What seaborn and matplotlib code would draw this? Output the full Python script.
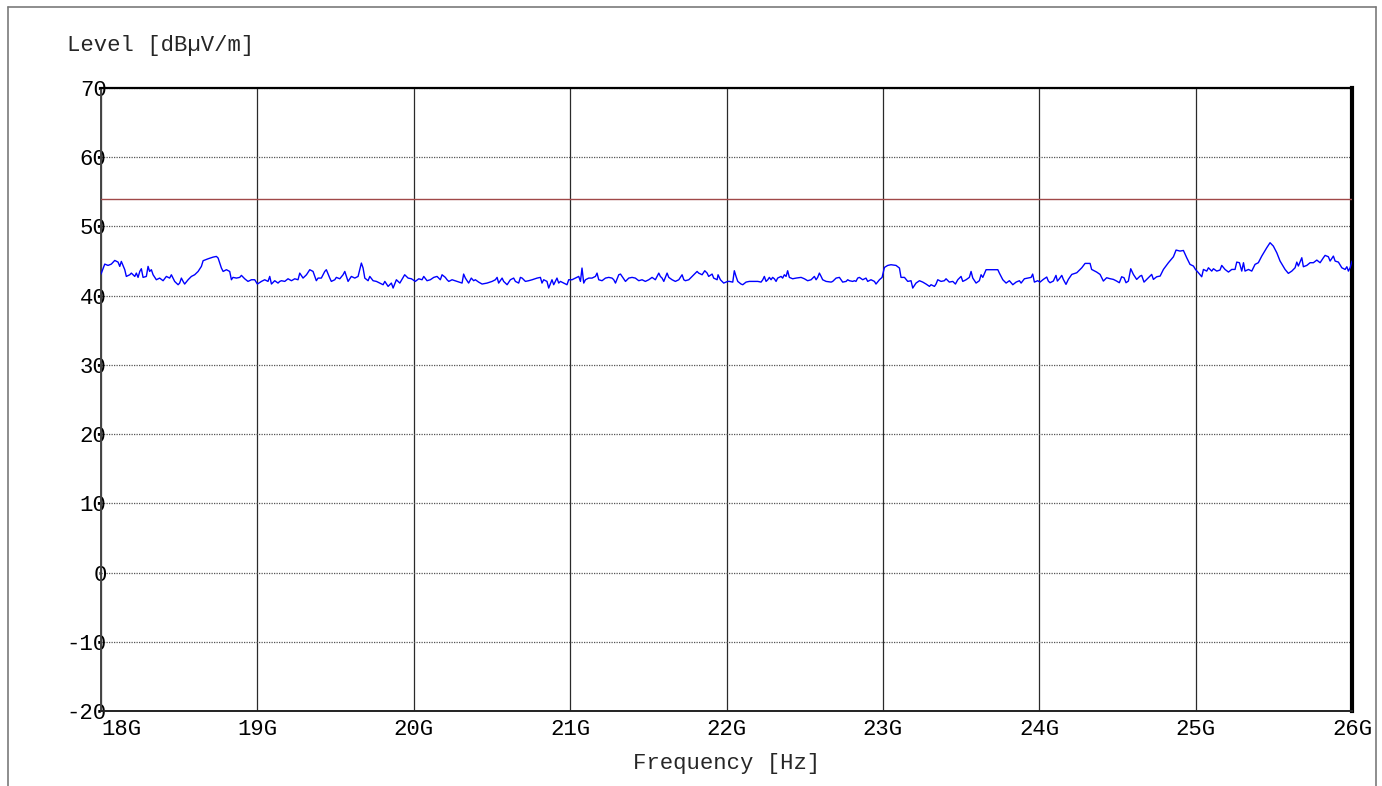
import numpy as np
import pandas as pd
import matplotlib
matplotlib.use("Agg")
import matplotlib.pyplot as plt
from matplotlib.lines import Line2D
import seaborn as sns

# ---------------- data ----------------
freq_ghz = [
    18.000, 18.024, 18.045, 18.066, 18.088, 18.109, 18.120, 18.130, 18.152, 18.162,
    18.184, 18.194, 18.216, 18.226, 18.237, 18.248, 18.258, 18.269, 18.290, 18.301,
    18.311, 18.322, 18.333, 18.354, 18.375, 18.397, 18.418, 18.439, 18.450, 18.471,
    18.493, 18.503, 18.514, 18.525, 18.535, 18.557, 18.578, 18.599, 18.621, 18.642,
    18.653, 18.685, 18.717, 18.738, 18.749, 18.770, 18.781, 18.802, 18.823, 18.834,
    18.844, 18.866, 18.887, 18.898, 18.919, 18.940, 18.962, 18.983, 19.000, 19.026,
    19.047, 19.068, 19.079, 19.090, 19.111, 19.132, 19.143, 19.154, 19.175, 19.196,
    19.218, 19.239, 19.260, 19.271, 19.292, 19.314, 19.335, 19.356, 19.377, 19.388,
    19.409, 19.431, 19.441, 19.463, 19.473, 19.495, 19.505, 19.527, 19.548, 19.559,
    19.580, 19.601, 19.623, 19.644, 19.665, 19.676, 19.687, 19.708, 19.719, 19.740,
    19.761, 19.783, 19.804, 19.815, 19.836, 19.857, 19.868, 19.889, 19.911, 19.932,
    19.942, 19.964, 19.985,
    20.010, 20.032, 20.053, 20.064, 20.085, 20.106, 20.128, 20.149, 20.170, 20.181,
    20.202, 20.213, 20.224, 20.245, 20.277, 20.309, 20.319, 20.330, 20.351, 20.368,
    20.383, 20.394, 20.415, 20.437, 20.469, 20.501, 20.522, 20.533, 20.543, 20.565,
    20.575, 20.597, 20.618, 20.639, 20.650, 20.671, 20.682, 20.693, 20.714, 20.735,
    20.757, 20.789, 20.810, 20.820, 20.831, 20.852, 20.863, 20.884, 20.895, 20.916,
    20.927, 20.938, 20.959, 20.980, 20.991, 21.012, 21.034, 21.055, 21.066, 21.076,
    21.087, 21.098, 21.119, 21.140, 21.162, 21.172, 21.183, 21.204, 21.226, 21.247,
    21.268, 21.279, 21.290, 21.311, 21.322, 21.332, 21.354, 21.375, 21.396, 21.417,
    21.439, 21.460, 21.481, 21.503, 21.524, 21.545, 21.567, 21.577, 21.588, 21.599,
    21.620, 21.631, 21.652, 21.673, 21.695, 21.716, 21.727, 21.737, 21.759, 21.780,
    21.801, 21.812, 21.822, 21.844, 21.861, 21.876, 21.886, 21.908, 21.918, 21.940,
    21.946, 21.961, 21.982,
    22.008, 22.018, 22.040, 22.050, 22.061, 22.072, 22.093, 22.104, 22.125, 22.146,
    22.178, 22.200, 22.221, 22.232, 22.242, 22.253, 22.264, 22.274, 22.285, 22.295,
    22.306, 22.317, 22.327, 22.349, 22.359, 22.370, 22.381, 22.391, 22.402, 22.423,
    22.445, 22.477, 22.498, 22.519, 22.541, 22.562, 22.573, 22.583, 22.594, 22.605,
    22.615, 22.637, 22.669, 22.679, 22.701, 22.722, 22.743, 22.765, 22.775, 22.786,
    22.807, 22.818, 22.828, 22.839, 22.850, 22.871, 22.892, 22.903, 22.924, 22.946,
    22.956, 22.978, 22.995, 23.010, 23.031, 23.052, 23.084, 23.106, 23.116, 23.138,
    23.159, 23.180, 23.191, 23.212, 23.234, 23.255, 23.276, 23.298, 23.308, 23.330,
    23.340, 23.351, 23.372, 23.393, 23.404, 23.425, 23.447, 23.464, 23.479, 23.500,
    23.511, 23.532, 23.553, 23.564, 23.575, 23.596, 23.617, 23.628, 23.639, 23.660,
    23.703, 23.735, 23.745, 23.767, 23.788, 23.809, 23.831, 23.852, 23.873, 23.884,
    23.905, 23.926, 23.948, 23.958, 23.969, 23.990,
    24.005, 24.026, 24.048, 24.058, 24.069, 24.090, 24.107, 24.116, 24.129, 24.144,
    24.154, 24.171, 24.186, 24.208, 24.240, 24.272, 24.293, 24.325, 24.335, 24.367,
    24.389, 24.410, 24.431, 24.453, 24.474, 24.495, 24.512, 24.527, 24.542, 24.555,
    24.570, 24.585, 24.602, 24.623, 24.645, 24.655, 24.670, 24.687, 24.719, 24.730,
    24.751, 24.773, 24.794, 24.826, 24.858, 24.875, 24.900, 24.922, 24.943, 24.964,
    24.986, 24.999, 25.018, 25.039, 25.050, 25.071, 25.082, 25.103, 25.114, 25.135,
    25.156, 25.167, 25.188, 25.210, 25.231, 25.252, 25.263, 25.280, 25.295, 25.306,
    25.316, 25.338, 25.359, 25.380, 25.401, 25.423, 25.455, 25.476, 25.497, 25.519,
    25.540, 25.572, 25.593, 25.615, 25.636, 25.647, 25.657, 25.679, 25.689, 25.711,
    25.732, 25.753, 25.775, 25.796, 25.817, 25.828, 25.849, 25.860, 25.881, 25.892,
    25.913, 25.935, 25.956, 25.967, 25.977, 25.988, 26.000,
]

level_dbuv = [
    43.12, 44.56, 44.37, 44.56, 45.09, 44.85, 44.23, 44.95, 43.75, 42.78,
    43.02, 43.26, 42.78, 43.26, 42.64, 43.50, 43.89, 42.64, 42.78, 44.23,
    43.50, 43.75, 43.02, 42.30, 42.54, 42.16, 42.78, 42.54, 43.02, 42.06,
    41.58, 41.82, 42.54, 42.06, 41.68, 42.30, 42.78, 43.02, 43.50, 44.23,
    45.05, 45.33, 45.57, 45.67, 45.43, 43.99, 43.50, 43.75, 43.50, 42.30,
    42.64, 42.54, 42.64, 42.93, 42.44, 42.06, 42.30, 42.30, 41.68, 42.06,
    42.30, 42.06, 42.78, 41.68, 42.16, 41.82, 42.06, 42.16, 42.06, 42.44,
    42.16, 42.44, 42.30, 43.26, 42.54, 43.02, 43.75, 43.50, 42.16, 42.54,
    42.54, 43.50, 43.75, 42.54, 42.06, 42.30, 42.64, 42.44, 43.02, 43.50,
    42.06, 42.78, 42.54, 42.78, 44.71, 43.99, 42.54, 42.16, 42.78, 42.16,
    42.06, 41.82, 41.58, 42.06, 41.34, 41.82, 41.10, 42.30, 41.82, 42.64,
    43.02, 42.54, 42.44,
    42.06, 42.44, 42.30, 42.78, 42.16, 42.30, 42.64, 42.78, 42.30, 43.02,
    42.64, 42.30, 42.06, 42.30, 42.06, 41.82, 43.12, 42.54, 41.82, 42.54,
    42.16, 42.30, 41.96, 41.68, 41.82, 42.06, 42.30, 42.64, 41.82, 42.54,
    42.06, 41.58, 42.30, 42.54, 42.06, 41.82, 42.64, 42.54, 42.06, 42.16,
    42.30, 42.54, 42.64, 41.82, 42.30, 42.06, 41.10, 42.30, 41.58, 42.54,
    41.82, 42.06, 41.82, 41.58, 42.30, 42.30, 42.54, 42.78, 42.06, 43.99,
    41.82, 42.30, 42.54, 42.54, 42.78, 43.26, 42.30, 42.16, 42.54, 42.64,
    42.54, 42.30, 41.82, 43.02, 43.12, 42.78, 42.06, 42.54, 42.64, 42.54,
    42.16, 42.30, 42.06, 42.30, 42.64, 42.30, 43.26, 42.78, 42.54, 42.06,
    43.26, 42.64, 42.30, 42.06, 42.30, 43.02, 42.30, 42.16, 42.30, 42.78,
    43.26, 43.50, 43.26, 43.02, 43.60, 43.26, 42.78, 43.12, 42.54, 42.30,
    43.02, 42.30, 41.82,
    42.06, 42.06, 41.96, 43.60, 42.78, 42.06, 41.68, 41.58, 41.96, 42.06,
    42.06, 42.06, 41.96, 42.30, 42.78, 42.06, 42.30, 42.64, 42.30, 42.64,
    42.44, 42.06, 42.54, 42.78, 42.54, 43.02, 42.78, 43.60, 42.64, 42.44,
    42.54, 42.64, 42.44, 42.16, 42.30, 42.78, 42.30, 42.64, 43.26, 42.78,
    42.30, 42.06, 41.96, 42.06, 42.54, 42.64, 41.96, 42.06, 42.30, 42.16,
    42.06, 42.16, 42.06, 42.54, 42.64, 42.30, 42.54, 42.06, 42.30, 42.06,
    41.68, 42.30, 42.64, 44.08, 44.37, 44.47, 44.37, 43.99, 42.64, 42.64,
    42.06, 42.16, 41.10, 41.82, 42.16, 41.96, 41.68, 41.34, 41.58, 41.34,
    41.68, 42.30, 42.06, 42.16, 42.44, 41.96, 42.06, 41.68, 42.30, 42.78,
    42.06, 42.30, 42.64, 43.50, 42.54, 41.82, 42.16, 43.02, 42.64, 43.75,
    43.75, 43.75, 43.26, 42.30, 41.82, 42.16, 41.58, 41.96, 42.16, 41.82,
    42.44, 42.54, 42.64, 43.12, 41.96, 42.16,
    41.96, 42.35, 42.69, 42.11, 41.87, 42.11, 42.93, 42.11, 42.45, 42.93,
    42.35, 41.63, 42.35, 43.07, 43.31, 44.03, 44.66, 44.66, 43.79, 43.41,
    43.07, 42.11, 42.59, 42.45, 42.35, 42.11, 41.87, 42.73, 42.59, 41.87,
    42.11, 43.89, 43.07, 42.35, 42.83, 42.93, 41.96, 42.35, 43.07, 42.35,
    42.73, 42.83, 43.79, 44.76, 45.62, 46.59, 46.44, 46.53, 45.48, 44.52,
    44.28, 43.79, 43.31, 42.73, 43.79, 43.55, 44.03, 43.55, 43.89, 43.55,
    43.70, 44.37, 43.79, 43.41, 43.79, 43.79, 44.85, 44.76, 43.55, 44.76,
    43.55, 43.79, 43.55, 44.52, 44.76, 45.72, 46.93, 47.65, 47.16, 46.20,
    45.00, 43.79, 43.22, 43.55, 44.03, 44.85, 44.28, 45.48, 44.18, 44.37,
    44.76, 44.76, 45.14, 44.76, 45.48, 45.82, 45.62, 45.00, 45.72, 45.00,
    44.85, 44.03, 43.79, 44.18, 43.55, 44.03, 45.00,
]

limit_dbuv = 54
y_ticks = [-20, -10, 0, 10, 20, 30, 40, 50, 60, 70]
x_ticks_ghz = [18, 19, 20, 21, 22, 23, 24, 25, 26]
x_tick_labels = ["18G", "19G", "20G", "21G", "22G", "23G", "24G", "25G", "26G"]
y_title = "Level [dBµV/m]"
x_title = "Frequency [Hz]"

# ---------------- figure ----------------
sns.set_theme(style="white")
plt.rcParams["font.family"] = ["Liberation Mono", "DejaVu Sans Mono"]

W, H = 1382, 786
FS = 16
fig = plt.figure(figsize=(W / 100, H / 100), dpi=100)
fig.patch.set_facecolor("white")

# outer frame
frame_kw = dict(color="#7a7a7a", lw=1.2, transform=fig.transFigure)
fig.add_artist(Line2D([8 / W, 8 / W], [0, 1 - 7 / H], **frame_kw))
fig.add_artist(Line2D([1375.5 / W, 1375.5 / W], [0, 1 - 7 / H], **frame_kw))
fig.add_artist(Line2D([8 / W, 1375.5 / W], [1 - 7 / H, 1 - 7 / H], **frame_kw))

ax = fig.add_axes([101 / W, 1 - 711 / H, (1352 - 101) / W, (711 - 88) / H])

df = pd.DataFrame({"freq": freq_ghz, "level": level_dbuv})
sns.lineplot(data=df, x="freq", y="level", ax=ax, color="#0000ff",
             linewidth=1.0, estimator=None, sort=False, zorder=4)
ax.axhline(limit_dbuv, color="#a04848", linewidth=1.0, zorder=3)

ax.set_xlim(18, 26)
ax.set_ylim(-20, 70)
ax.set_yticks(y_ticks)
ax.set_yticklabels([str(v) for v in y_ticks])
ax.set_xticks(x_ticks_ghz)
ax.set_xticklabels(x_tick_labels)

# grid
ax.xaxis.grid(True, color="#2a2a2a", linewidth=0.9, linestyle="-")
ax.yaxis.grid(True, color="#555555", linewidth=0.9, linestyle=(0, (1, 1)))
ax.set_axisbelow(True)

ax.tick_params(axis="both", length=0, labelsize=FS, colors="black")
ax.tick_params(axis="y", pad=-4)
ax.tick_params(axis="x", pad=6)
xl = ax.get_xticklabels()
for lbl in xl:
    lbl.set_horizontalalignment("center")
xl[0].set_horizontalalignment("left")
for lbl in ax.get_yticklabels():
    lbl.set_horizontalalignment("right")

for side, lw, col in [("left", 1.4, "#444444"), ("bottom", 1.4, "#222222"),
                      ("top", 1.6, "black"), ("right", 3.0, "black")]:
    ax.spines[side].set_visible(True)
    ax.spines[side].set_linewidth(lw)
    ax.spines[side].set_color(col)

ax.set_xlabel("")
ax.set_ylabel("")
fig.text(67 / W, 1 - 46 / H, y_title, ha="left", va="center", fontsize=FS)
fig.text(726.5 / W, 1 - 763 / H, x_title, ha="center", va="center", fontsize=FS)

fig.savefig("out.png", dpi=100, facecolor="white")
